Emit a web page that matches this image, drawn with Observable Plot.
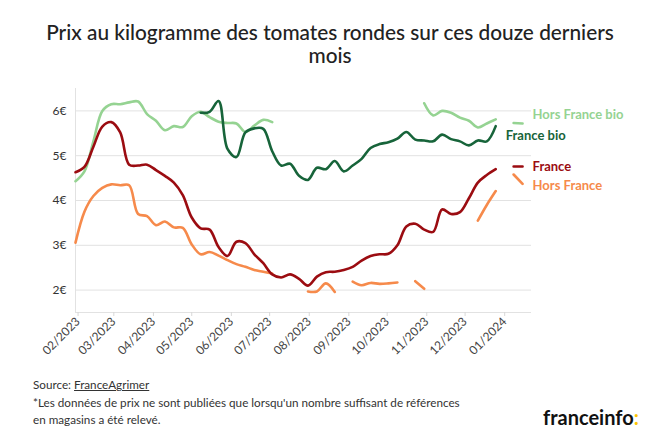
<!DOCTYPE html>
<html><head><meta charset="utf-8">
<script src="https://cdn.jsdelivr.net/npm/d3@7"></script>
<script src="https://cdn.jsdelivr.net/npm/@observablehq/plot@0.6"></script>
<style>
body{margin:0;background:#fff;font-family:Lato,"Open Sans",sans-serif;}
#wrap{position:relative;width:660px;height:439px;overflow:hidden}
#title{position:absolute;top:20px;left:0;width:660px;text-align:center;font-size:20.8px;line-height:23px;color:#222;font-weight:500}
#chart{position:absolute;top:80px;left:0}
#src{position:absolute;left:33px;top:376px;font-size:11.7px;line-height:17.5px;color:#333}
#src u{text-decoration:underline}
#logo{position:absolute;left:543px;top:405px;font-size:20px;font-weight:700;color:#111;letter-spacing:0px}
#logo span{color:#fdc500}
</style></head>
<body><div id="wrap">
<div id="title">Prix au kilogramme des tomates rondes sur ces douze derniers<br>mois</div>
<div id="chart"></div>
<div id="src">Source: <u>FranceAgrimer</u><br>*Les données de prix ne sont publiées que lorsqu'un nombre suffisant de références<br>en magasins a été relevé.</div>
<div id="logo">franceinfo<span>:</span></div>
</div>
<script>
const weeks = ["2023-01-30","2023-02-06","2023-02-13","2023-02-20","2023-02-27","2023-03-06","2023-03-13","2023-03-20","2023-03-27","2023-04-03",
"2023-04-10","2023-04-17","2023-04-24","2023-05-01","2023-05-08","2023-05-15","2023-05-22","2023-05-29","2023-06-05","2023-06-12",
"2023-06-19","2023-06-26","2023-07-03","2023-07-10","2023-07-17","2023-07-24","2023-07-31","2023-08-07","2023-08-14","2023-08-21",
"2023-08-28","2023-09-04","2023-09-11","2023-09-18","2023-09-25","2023-10-02","2023-10-09","2023-10-16","2023-10-23","2023-10-30",
"2023-11-06","2023-11-13","2023-11-20","2023-11-27","2023-12-04","2023-12-11","2023-12-18","2023-12-25","2024-01-01","2024-01-08","2024-01-15"];

const france = [4.63,4.75,5.2,5.65,5.75,5.52,4.80,4.78,4.80,4.68,
4.55,4.40,4.12,3.62,3.38,3.35,2.96,2.76,3.08,3.05,
2.80,2.60,2.35,2.28,2.35,2.25,2.10,2.30,2.40,2.41,
2.45,2.52,2.66,2.76,2.80,2.81,3.0,3.42,3.48,3.35,
3.30,3.80,3.70,3.74,4.05,4.40,4.57,4.70,null,4.76,4.76];

const horsFrance = [3.06,3.75,4.10,4.28,4.36,4.34,4.34,3.70,3.65,3.45,
3.53,3.40,3.39,3.02,2.80,2.85,2.77,2.67,2.58,2.52,
2.45,2.41,2.37,null,null,null,1.97,1.97,2.15,1.96,
null,2.19,2.11,2.16,2.14,2.15,2.17,null,2.20,2.03,
null,null,null,null,null,3.55,3.90,4.21,null,4.58,4.37];

const franceBio = [null,null,null,null,null,null,null,null,null,null,
null,null,null,null,5.96,5.98,6.22,5.15,4.97,5.52,
5.61,5.60,5.10,4.78,4.82,4.55,4.46,4.73,4.70,4.88,
4.65,4.78,4.93,5.17,5.26,5.30,5.38,5.53,5.36,5.34,
5.32,5.47,5.37,5.32,5.23,5.34,5.32,5.66,null,null,null];

const horsFranceBio = [4.43,4.65,5.32,6.0,6.15,6.15,6.19,6.21,5.93,5.78,
5.57,5.66,5.64,5.88,5.98,5.86,5.76,5.73,5.72,5.53,
5.67,5.80,5.75,null,null,null,null,null,null,null,
null,null,null,null,null,null,null,null,null,6.17,
5.90,6.0,5.96,5.85,5.78,5.63,5.72,5.81,null,5.73,5.72];

const monthTicks = ["2023-02-01","2023-03-01","2023-04-01","2023-05-01","2023-06-01","2023-07-01","2023-08-01","2023-09-01","2023-10-01","2023-11-01","2023-12-01","2024-01-01"];
const yTicks = [2,3,4,5,6];

const seriesNames = ["Hors France bio","Hors France","France bio","France"];
const seriesValues = [horsFranceBio, horsFrance, franceBio, france];
const seriesColors = ["#95d392","#f68a4b","#17643a","#9b0c11"];
const labelOffsets = [[10,-9],[10,2],[10,10],[10,0]];

const parse = d3.utcParse("%Y-%m-%d");
const series = seriesNames.map((name,i)=>({
  name, color: seriesColors[i],
  data: weeks.map((w,j)=>({date: parse(w), value: seriesValues[i][j]}))
}));

const lineMarks = series.map(s => Plot.line(s.data, {x:"date", y:"value", stroke:s.color, strokeWidth:2.6, curve:"catmull-rom"}));
const labelMarks = series.map((s,i) => {
  const last = s.data.filter(d=>d.value!=null).slice(-1);
  return Plot.text(last, {x:"date", y:"value", text:()=>s.name, dx:labelOffsets[i][0], dy:labelOffsets[i][1],
    textAnchor:"start", fill:s.color, fontWeight:700, fontSize:13});
});

const chart = Plot.plot({
  width:660, height:290,
  marginTop:8, marginBottom:58, marginLeft:75, marginRight:129,
  style:{fontFamily:"Lato, sans-serif", fontSize:"12px", color:"#333", background:"transparent", overflow:"visible"},
  x:{type:"utc", domain:[parse("2023-01-30"), parse("2024-01-22")]},
  y:{domain:[1.5,6.5]},
  marks:[
    Plot.ruleY(yTicks, {stroke:"#e2e2e2", strokeWidth:1}),
    Plot.ruleX([parse("2023-01-30")], {stroke:"#e2e2e2"}),
    Plot.ruleY([1.5], {stroke:"#e2e2e2"}),
    Plot.axisX(monthTicks.map(parse), {tickFormat:d3.utcFormat("%m/%Y"), tickRotate:-45, tickSize:4, stroke:"#d8d8d8", tickPadding:3, fontSize:12, fill:"#444", label:null}),
    Plot.axisY(yTicks, {tickFormat:d=>d+"€", tickSize:0, tickPadding:9, fontSize:12, fill:"#333", label:null}),
    ...lineMarks,
    ...labelMarks
  ]
});
document.getElementById("chart").appendChild(chart);
</script>
</body></html>
